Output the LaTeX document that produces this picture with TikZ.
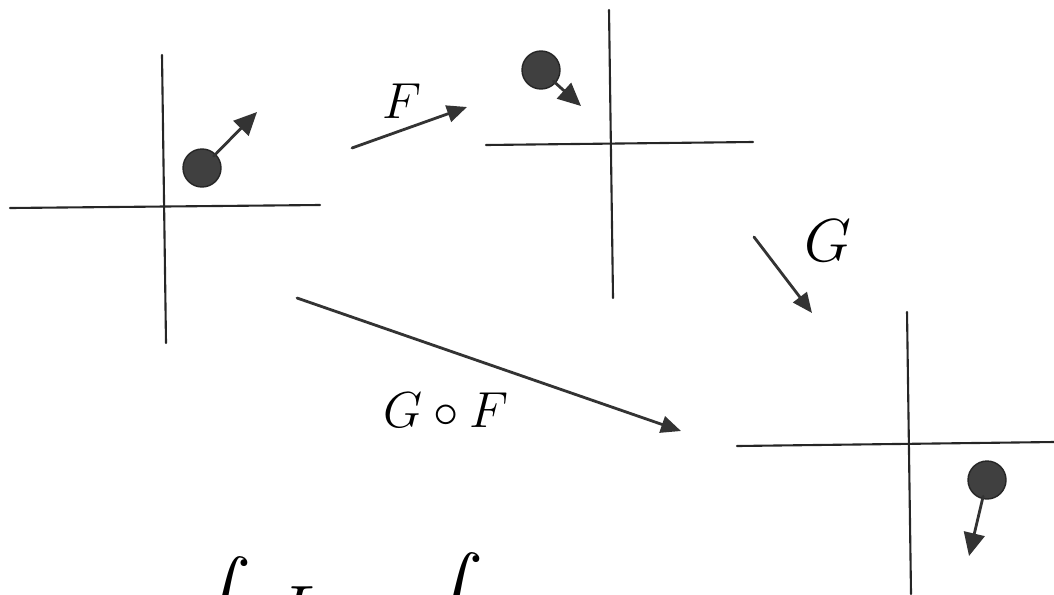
\documentclass[tikz,border=0pt]{standalone}
\usepackage{amsmath,amssymb}
\usetikzlibrary{arrows.meta}

\begin{document}
\begin{tikzpicture}[x=0.1mm, y=-0.1mm, line join=round, line cap=round]

    \tikzset{
      axis/.style={line width=0.6pt, black!85},
      ball/.style={circle, fill=black!75, draw=black!85, line width=0.4pt, minimum size=3.8mm, inner sep=0pt},
      vel/.style={-{Triangle[length=2.3mm, width=2.1mm]}, line width=0.8pt, black!80, shorten <=-0.3mm},
      map/.style={-{Triangle[length=2mm, width=1.7mm]}, line width=0.8pt, black!80},
      bigsym/.style={inner sep=0pt, font=\fontsize{20}{24}\selectfont},
    }

    % Page
    \useasboundingbox (0,0) rectangle (1054,594);
    \clip (0,0) rectangle (1054,594);

    % First frame
    \coordinate (X1a) at (10, 208);
    \coordinate (X1b) at (320, 205);
    \coordinate (Y1a) at (162, 55);
    \coordinate (Y1b) at (166, 343);
    \draw[axis] (X1a) -- (X1b);
    \draw[axis] (Y1a) -- (Y1b);

    \node[ball] (P1) at (202, 168) {};
    \coordinate (V1) at (257, 112);
    \draw[vel] (P1) -- (V1);

    % Second frame
    \coordinate (X2a) at (486, 145);
    \coordinate (X2b) at (753, 142);
    \coordinate (Y2a) at (609, 10);
    \coordinate (Y2b) at (613, 298);
    \draw[axis] (X2a) -- (X2b);
    \draw[axis] (Y2a) -- (Y2b);

    \node[ball] (P2) at (541, 70) {};
    \coordinate (V2) at (581, 106);
    \draw[vel] (P2) -- (V2);

    % Third frame
    \coordinate (X3a) at (737, 446);
    \coordinate (X3b) at (1054, 442);
    \coordinate (Y3a) at (907, 312);
    \coordinate (Y3b) at (911, 594);
    \draw[axis] (X3a) -- (X3b);
    \draw[axis] (Y3a) -- (Y3b);

    \node[ball] (P3) at (987, 480) {};
    \coordinate (V3) at (969, 556);
    \draw[vel] (P3) -- (V3);

    % Maps between frames
    \coordinate (Fs) at (352, 148);
    \coordinate (Fe) at (467, 107);
    \draw[map] (Fs) -- (Fe);
    \node (Flab) at (402, 101) {\fontsize{15}{18}\selectfont $F$};

    \coordinate (Gs) at (754, 237);
    \coordinate (Ge) at (812, 313);
    \draw[map] (Gs) -- (Ge);
    \node (Glab) at (828, 241) {\fontsize{17}{20}\selectfont $G$};

    \coordinate (GFs) at (297, 298);
    \coordinate (GFe) at (681, 431);
    \draw[map] (GFs) -- (GFe);
    \node (GFlab) at (446, 410) {\fontsize{15}{18}\selectfont $G\circ F$};

    % Formula cut off at the bottom
    \node[bigsym, anchor=north east] (int1) at (252, 556) {$\displaystyle\int$};
    \node[bigsym, anchor=north west] (lterm) at (276, 586) {$L$};
    \node[bigsym, anchor=north east] (int2) at (484, 552) {$\displaystyle\int$};

\end{tikzpicture}
\end{document}
